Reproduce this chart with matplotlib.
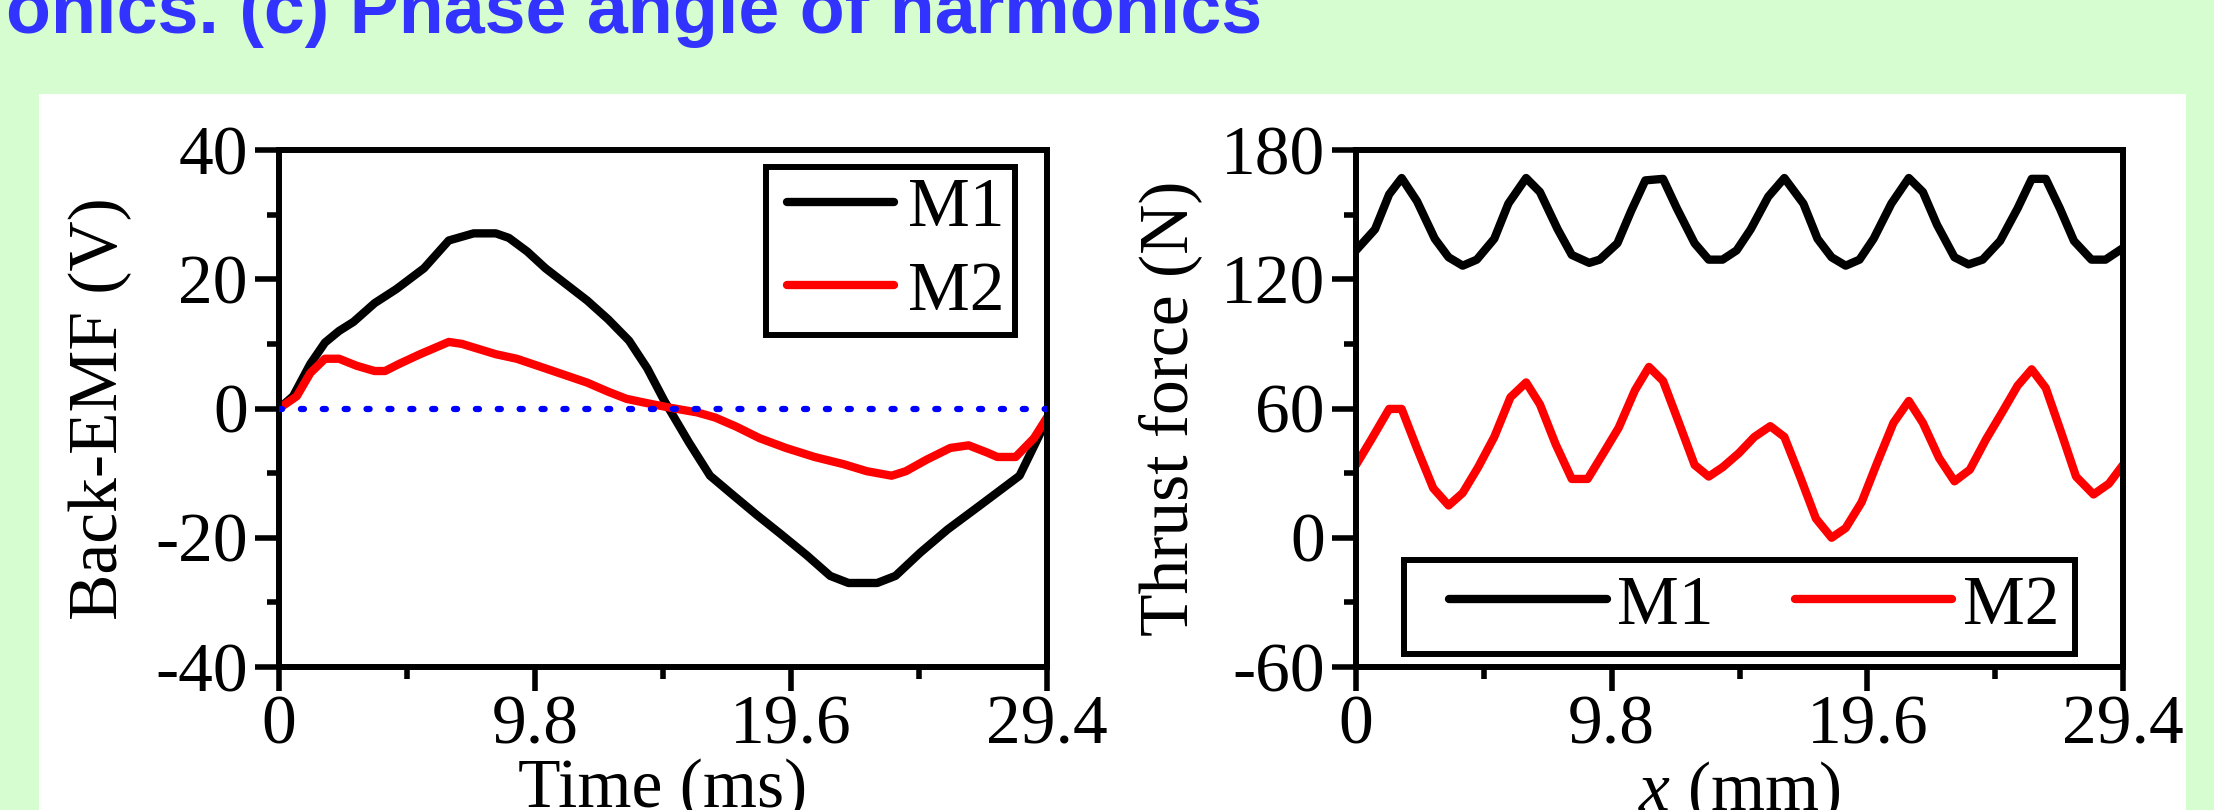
import matplotlib
matplotlib.use('Agg')
import matplotlib.pyplot as plt
from matplotlib.patches import Rectangle
from matplotlib.lines import Line2D
from matplotlib.legend_handler import HandlerLine2D
from matplotlib.ticker import MultipleLocator

# Left panel: back-EMF vs time (ms) ---------------------------------
emf_t_m1 = [0, 0.54, 1.2, 1.76, 2.3, 2.85, 3.66, 4.5, 5.55, 6.5,
            7.45, 8.3, 8.8, 9.5, 10.2, 11.0, 11.8, 12.6, 13.4, 14.1,
            14.75, 15.7, 16.5, 17.35, 18.3, 19.2, 20.2, 21.1, 21.8, 22.9,
            23.6, 24.55, 25.6, 26.8, 28.35, 29.4]
emf_m1 = [0, 1.9, 6.9, 10.2, 12.0, 13.4, 16.3, 18.5, 21.7, 26.0,
          27.1, 27.1, 26.4, 24.3, 21.7, 19.2, 16.7, 13.8, 10.5, 6.2,
          1.2, -5.3, -10.4, -13.3, -16.5, -19.4, -22.7, -25.9, -27.0, -27.0,
          -25.9, -22.3, -18.7, -15.1, -10.4, -1.7]

emf_t_m2 = [0, 0.68, 1.2, 1.76, 2.3, 2.98, 3.66, 4.06, 4.6, 5.4,
            6.5, 7.0, 8.3, 9.1, 10.2, 11.0, 11.8, 12.6, 13.3, 14.0,
            15.0, 16.0, 16.7, 17.5, 18.4, 19.4, 20.5, 21.6, 22.5, 23.45,
            24.0, 24.8, 25.7, 26.4, 27.1, 27.5, 28.2, 28.9, 29.4]
emf_m2 = [0, 1.9, 5.5, 7.7, 7.7, 6.6, 5.8, 5.8, 6.9, 8.4,
          10.3, 10.0, 8.4, 7.7, 6.2, 5.1, 4.0, 2.6, 1.5, 0.9,
          0.1, -0.6, -1.4, -2.8, -4.6, -6.1, -7.5, -8.6, -9.7, -10.4,
          -9.7, -7.9, -6.1, -5.7, -6.8, -7.5, -7.5, -4.6, -1.4]

# Right panel: thrust force vs x (mm) -------------------------------
force_x_m1 = [0, 0.73, 1.27, 1.75, 2.34, 3.02, 3.55, 4.09, 4.63, 5.30,
              5.84, 6.52, 7.05, 7.73, 8.27, 8.94, 9.34, 10.02, 10.55, 11.09,
              11.77, 12.30, 12.98, 13.52, 14.05, 14.59, 15.13, 15.80, 16.42, 17.15,
              17.69, 18.23, 18.77, 19.30, 19.84, 20.52, 21.19, 21.73, 22.27, 22.94,
              23.48, 24.02, 24.69, 25.36, 25.90, 26.44, 26.98, 27.52, 28.19, 28.73,
              29.4]
force_m1 = [133.4, 143.2, 159.4, 167.0, 156.2, 138.8, 130.2, 126.3, 129.1, 138.8,
            155.1, 167.0, 160.5, 143.2, 131.3, 127.6, 129.1, 136.7, 151.8, 165.9,
            166.6, 152.9, 136.7, 129.1, 129.1, 133.4, 143.2, 158.3, 167.0, 155.1,
            138.8, 130.2, 126.3, 129.1, 138.8, 155.1, 167.0, 160.5, 145.3, 130.2,
            126.9, 129.1, 137.8, 152.9, 166.6, 166.6, 152.9, 137.8, 129.1, 129.1,
            134.5]

force_x_m2 = [0, 0.59, 1.27, 1.75, 2.34, 2.96, 3.55, 4.09, 4.68, 5.30,
              5.92, 6.52, 7.05, 7.65, 8.27, 8.88, 9.48, 10.07, 10.69, 11.23,
              11.77, 12.38, 12.98, 13.52, 14.05, 14.67, 15.27, 15.88, 16.42, 17.02,
              17.63, 18.23, 18.77, 19.38, 19.98, 20.60, 21.19, 21.73, 22.35, 22.94,
              23.53, 24.15, 24.77, 25.36, 25.90, 26.44, 27.03, 27.60, 28.27, 28.86,
              29.4]
force_m2 = [33.8, 45.7, 59.8, 59.8, 41.4, 23.0, 15.0, 20.8, 32.7, 46.8,
            65.2, 72.1, 61.9, 43.5, 27.3, 27.3, 39.2, 51.1, 68.4, 79.3,
            72.8, 53.3, 33.8, 28.4, 32.7, 39.2, 46.8, 51.8, 46.8, 28.4,
            8.9, 0.0, 4.5, 16.5, 34.9, 53.3, 63.5, 53.3, 37.0, 26.2,
            31.6, 45.7, 58.3, 70.6, 78.2, 69.5, 48.9, 28.4, 20.1, 25.1,
            33.8]

xticks = [0, 9.8, 19.6, 29.4]
xtick_labels = ['0', '9.8', '19.6', '29.4']
series_labels = ['M1', 'M2']

plt.rcParams['font.family'] = ['Liberation Serif', 'DejaVu Serif']
plt.rcParams['axes.unicode_minus'] = False
plt.rcParams['mathtext.fontset'] = 'custom'
plt.rcParams['mathtext.it'] = 'Liberation Serif:italic'
plt.rcParams['mathtext.rm'] = 'Liberation Serif'

W, H = 2214, 810
fig = plt.figure(figsize=(W / 100, H / 100), dpi=100, facecolor='#d5fdd0')

# white slide panel
fig.add_artist(Rectangle((39 / W, 0), (2186 - 39) / W, 1 - 94 / H,
                         transform=fig.transFigure, facecolor='white',
                         edgecolor='none', zorder=0))

# slide title (cut at the top and left, as in the slide)
fig.text(1262 / W, 1 - 33 / H, 'onics. (c) Phase angle of harmonics',
         ha='right', va='baseline', fontsize=53, fontweight='bold',
         family='Liberation Sans', color='#3333ff')


def style_axes(ax, ylim, ymajor, yminor):
    ax.set_xlim(0, 29.4)
    ax.set_ylim(*ylim)
    ax.set_xticks(xticks)
    ax.set_xticklabels(xtick_labels)
    ax.xaxis.set_minor_locator(MultipleLocator(4.9))
    ax.yaxis.set_major_locator(MultipleLocator(ymajor))
    ax.yaxis.set_minor_locator(MultipleLocator(yminor))
    for s in ax.spines.values():
        s.set_linewidth(4.3)
    ax.tick_params(which='both', direction='out', width=4, top=False, right=False)
    ax.tick_params(which='major', length=17, labelsize=50)
    ax.tick_params(which='minor', length=8.5)
    ax.tick_params(axis='x', which='major', pad=3)
    ax.tick_params(axis='y', which='major', pad=5.5)


line_kw = dict(lw=6, solid_capstyle='round', solid_joinstyle='round')

# a) back-EMF --------------------------------------------------
ax1 = fig.add_axes([279 / W, 1 - 667 / H, (1047 - 279) / W, 517 / H])
ax1.plot(emf_t_m1, emf_m1, color='black', label=series_labels[0], **line_kw)
ax1.plot(emf_t_m2, emf_m2, color='red', label=series_labels[1], **line_kw)
ax1.axhline(0, color='#0000ff', lw=4.5, linestyle=(0, (0.5, 3.0)),
            dash_capstyle='round', zorder=5)
style_axes(ax1, (-40, 40), 20, 10)
ax1.set_xlabel('Time (ms)', fontsize=50)
ax1.set_ylabel('Back-EMF (V)', fontsize=50)
ax1.xaxis.set_label_coords(0.5, -0.178)
ax1.yaxis.set_label_coords((132 - 279) / 768, 0.5)
leg1 = ax1.legend(loc='upper right', bbox_to_anchor=(1 - 32 / 768, 1 - 17 / 517),
                  borderaxespad=0, fontsize=50, frameon=True, fancybox=False,
                  framealpha=1, edgecolor='black', handlelength=1.7,
                  handletextpad=0.2, labelspacing=0.29, borderpad=0.15,
                  handler_map={Line2D: HandlerLine2D(xpad=0.15)})
leg1.get_frame().set_linewidth(4.3)

# b) thrust force --------------------------------------------------
ax2 = fig.add_axes([1356 / W, 1 - 667 / H, 767 / W, 517 / H])
ax2.plot(force_x_m1, force_m1, color='black', label=series_labels[0], **line_kw)
ax2.plot(force_x_m2, force_m2, color='red', label=series_labels[1], **line_kw)
style_axes(ax2, (-60, 180), 60, 30)
ax2.set_xlabel(r'$x$ (mm)', fontsize=50)
ax2.set_ylabel('Thrust force (N)', fontsize=50)
ax2.xaxis.set_label_coords(0.5, -0.178)
ax2.yaxis.set_label_coords((1202 - 1356) / 767, 0.5)
leg2 = ax2.legend(loc='lower center', bbox_to_anchor=(0.5, 13 / 517), ncol=2,
                  borderaxespad=0, fontsize=50, frameon=True, fancybox=False,
                  framealpha=1, edgecolor='black', handlelength=2.69,
                  handletextpad=0.15, columnspacing=0.75, borderpad=0.22,
                  handler_map={Line2D: HandlerLine2D(xpad=0.42)})
leg2.get_frame().set_linewidth(4.3)

plt.savefig('out.png', dpi=100, facecolor=fig.get_facecolor())
